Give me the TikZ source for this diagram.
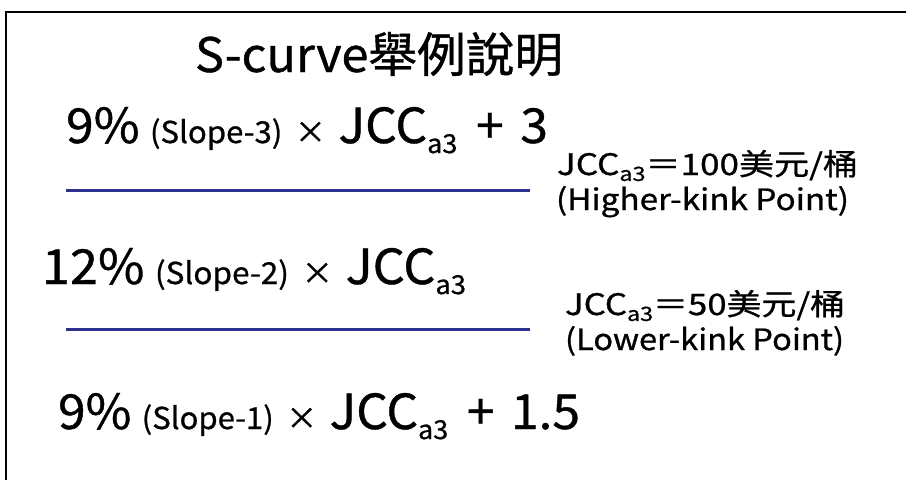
\documentclass[tikz,border=0pt]{standalone}
\usepackage{fontspec}
\setmainfont{Noto Sans CJK TC}[FakeBold=0.8]
\usepackage{graphicx}
\definecolor{linkblue}{RGB}{46,49,146}
\newcommand{\bigf}{\fontsize{48}{56}\selectfont}
\newcommand{\smf}{\fontsize{30}{34}\selectfont}
\newcommand{\subf}{\fontsize{26}{28}\selectfont}
\newcommand{\labf}{\fontsize{30}{34}\selectfont}
\newcommand{\lsubf}{\fontsize{20}{24}\selectfont}
\newcommand{\jccbig}{JCC\raisebox{-10pt}{\subf a3}}
\newcommand{\jccsmall}{JCC\raisebox{-6pt}{\lsubf a3}}
\newcommand{\gap}[1]{\hspace{#1pt}}
\tikzset{
  txt/.style={inner sep=0pt, outer sep=0pt, anchor=base west},
  sep/.style={draw=linkblue, line width=3pt},
  frame/.style={draw=black, line width=2pt}
}
\begin{document}
\begin{tikzpicture}[x=1pt,y=-1pt]
\useasboundingbox (0,0) rectangle (906,480);
\draw[frame] (906,12) -- (6,12) -- (6,480);
\node[txt] (title) at (195,72) {\resizebox{368pt}{40pt}{\fontsize{44}{50}\selectfont S-curve舉例說明}};
\node[txt] (eqA) at (66,143) {\resizebox{482pt}{36pt}{{\bigf 9\%}\gap{10}{\smf (Slope-3)}\gap{12}{\smf ×}\gap{12}{\bigf \jccbig}\gap{18}{\bigf +}\gap{16}{\bigf 3}}};
\node[txt] (eqB) at (42,284) {\resizebox{424pt}{36pt}{{\bigf 12\%}\gap{10}{\smf (Slope-2)}\gap{12}{\smf ×}\gap{12}{\bigf \jccbig}}};
\node[txt] (eqC) at (58,429) {\resizebox{522pt}{36pt}{{\bigf 9\%}\gap{10}{\smf (Slope-1)}\gap{12}{\smf ×}\gap{12}{\bigf \jccbig}\gap{18}{\bigf +}\gap{16}{\bigf 1.5}}};
\node[txt] (labA1) at (557,175) {\resizebox{301pt}{25pt}{\labf \jccsmall＝100美元/桶}};
\node[txt] (labA2) at (556,210) {\resizebox{293pt}{24pt}{\labf (Higher-kink Point)}};
\node[txt] (labB1) at (565,315) {\resizebox{280pt}{25pt}{\labf \jccsmall＝50美元/桶}};
\node[txt] (labB2) at (565,350) {\resizebox{279pt}{24pt}{\labf (Lower-kink Point)}};
\coordinate (s1a) at (66,190);
\coordinate (s1b) at (530,190);
\coordinate (s2a) at (66,329);
\coordinate (s2b) at (530,329);
\draw[sep] (s1a) -- (s1b);
\draw[sep] (s2a) -- (s2b);
\end{tikzpicture}
\end{document}
